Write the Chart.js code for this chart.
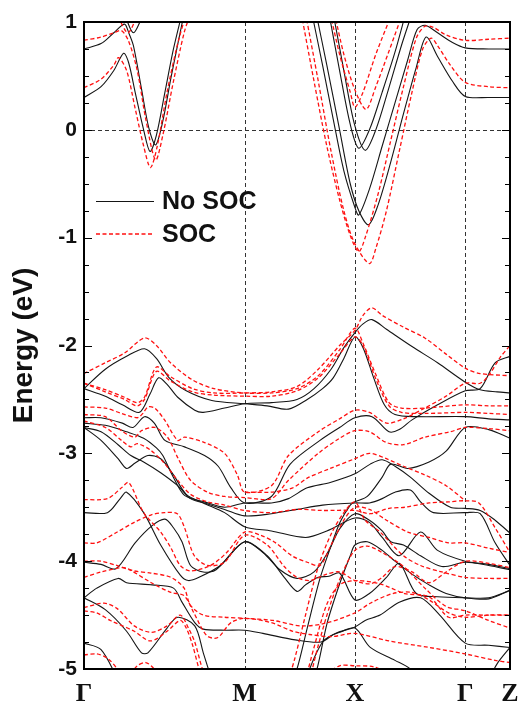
<!DOCTYPE html>
<html>
<head>
<meta charset="utf-8">
<script src="https://cdn.jsdelivr.net/npm/chart.js@4.4.1/dist/chart.umd.min.js"></script>
<style>
  html, body { margin: 0; padding: 0; background: #fff; }
  #wrap { width: 524px; height: 705px; }
</style>
</head>
<body>
<div id="wrap"><canvas id="bandChart" width="524" height="705"></canvas></div>
<script>
// k-path (normalised path length) and labels
const kTicks = [0, 37.7, 63.6, 89.5, 100];
const kLabels = ["Γ", "M", "X", "Γ", "Z"];
const energyTicks = [1, 0, -1, -2, -3, -4, -5];

// ---- No SOC bands [k, E(eV)] ----
const nc1 = [[0,0.30],[4,0.40],[7,0.55],[9.3,0.71],[10.5,0.62],[12,0.35],[14,0.0],[15.5,-0.20],[17,-0.05],[19,0.35],[21,0.75],[23,1.08]];
const nc2 = [[0,0.75],[4,0.80],[7,0.90],[9.5,0.98],[10.5,0.90],[11.6,0.78],[13.5,0.38],[15.2,0.02],[16.8,-0.14],[18.5,0.08],[20.5,0.50],[23.5,1.08]];
const nc3 = [[9.7,1.05],[11.6,0.90],[13.7,1.05]];
const nc4 = [[53.5,1.08],[56,0.60],[58.5,0.10],[61,-0.38],[63.6,-0.72],[64.5,-0.79],[67,-0.55],[70,-0.15],[73,0.25],[76,0.65],[78.2,0.93],[80.1,0.97],[83,0.90],[86.5,0.81],[89.5,0.76],[95,0.75],[100,0.75]];
const nc5 = [[54.5,1.08],[57,0.60],[60,0.0],[62.5,-0.50],[64.5,-0.75],[66.8,-0.88],[69,-0.70],[72,-0.30],[75,0.15],[78,0.58],[80.3,0.86],[83,0.68],[86.5,0.45],[89.5,0.31],[95,0.30],[100,0.30]];
const nc6 = [[57.5,1.08],[60,0.55],[62.5,0.05],[64.5,-0.17],[67,0.0],[70,0.35],[73,0.72],[75.5,1.08]];
const nc7 = [[58.5,1.08],[61,0.55],[63.5,0.05],[66,-0.19],[68.5,0.0],[71.5,0.38],[74.5,0.78],[77,1.08]];

const nv1 = [[0,-2.40],[5,-2.22],[10,-2.10],[14.2,-2.03],[17,-2.12],[20,-2.30],[24,-2.42],[30,-2.51],[37.7,-2.54],[43,-2.56],[48,-2.59],[52.4,-2.50],[56,-2.40],[58.5,-2.30],[61,-2.12],[63.6,-1.92],[65.5,-2.02],[68,-2.30],[70.5,-2.55],[73,-2.64],[78,-2.66],[89.5,-2.66],[95,-2.68],[100,-2.69]];
const nv2 = [[0,-2.40],[5,-2.47],[9,-2.55],[13,-2.62],[15.5,-2.45],[17.5,-2.30],[19.5,-2.36],[22,-2.48],[26,-2.60],[28,-2.62],[33,-2.58],[37.7,-2.54],[44,-2.53],[50,-2.50],[54,-2.40],[58,-2.22],[61,-2.02],[63.6,-1.88],[65.5,-1.80],[67.6,-1.76],[71,-1.85],[77,-2.01],[83,-2.16],[89.5,-2.34],[93,-2.41],[97,-2.43],[100,-2.44]];
const nv3 = [[0,-2.67],[4,-2.67],[9,-2.72],[11.5,-2.76],[14.2,-2.66],[16.5,-2.72],[19,-2.88],[23.6,-2.94],[28.3,-3.02],[31.5,-3.12],[34.5,-3.32],[37.7,-3.46],[44,-3.40],[48.4,-3.10],[55.4,-2.88],[60,-2.76],[63.6,-2.67],[67.6,-2.66],[71.6,-2.80],[74,-2.78],[77,-2.69],[83,-2.55],[89.5,-2.42],[93,-2.40],[96.5,-2.16],[100,-2.10]];
const nv4 = [[0,-2.76],[4,-2.88],[8,-3.05],[10,-3.14],[12,-3.09],[15,-3.02],[18,-3.05],[21,-3.20],[24,-3.38],[28,-3.46],[33,-3.55],[37.7,-3.68],[44,-3.72],[52,-3.78],[57,-3.72],[63.6,-3.60],[67,-3.64],[70,-3.78],[74,-3.95],[79,-3.73],[83,-3.90],[89.5,-4.00],[95,-4.03],[100,-4.07]];
const nv5 = [[0,-2.76],[4,-2.80],[8,-2.92],[11,-3.02],[14,-3.08],[18,-3.18],[22,-3.30],[25,-3.42],[29,-3.47],[33,-3.52],[37.7,-3.58],[44,-3.56],[50,-3.52],[56,-3.48],[63.6,-3.46],[67,-3.46],[70,-3.42],[73,-3.36],[76.6,-3.34],[79,-3.45],[82,-3.55],[89.5,-3.55],[93,-3.56],[96.5,-3.83],[100,-4.04]];
const nv6 = [[0,-2.72],[5,-2.74],[10,-2.80],[14,-2.86],[17,-2.95],[18.5,-3.02],[20.7,-3.20],[23.6,-3.39],[28.3,-3.45],[33,-3.50],[37.7,-3.46],[44,-3.46],[48,-3.42],[52.4,-3.32],[57.8,-3.27],[63.6,-3.19],[67.2,-3.10],[70,-3.06],[73,-3.12],[76.6,-3.22],[81,-3.37],[86,-3.50],[89.5,-3.51],[93,-3.53],[96.5,-3.62],[100,-3.74]];
const nv7 = [[0,-3.55],[5.5,-3.55],[8.5,-3.42],[10,-3.36],[14,-3.55],[18,-3.85],[22.6,-4.13],[24.5,-4.18],[27,-4.15],[32,-4.04],[37.7,-3.82],[42,-3.92],[46,-4.08],[50,-4.16],[54,-4.10],[57.5,-3.90],[60,-3.70],[63.6,-3.56],[67,-3.62],[70,-3.72],[72,-3.82],[75,-3.85],[79,-3.95],[84,-4.05],[89.5,-4.01],[95,-4.04],[100,-4.08]];
const nv8 = [[0,-4.01],[4,-4.03],[7.5,-4.07],[12,-3.83],[16,-3.67],[19,-3.61],[21,-3.69],[23,-3.82],[25,-4.04],[28,-4.10],[31,-4.08],[37.7,-3.82],[43,-3.95],[47,-4.15],[50,-4.28],[52,-4.22],[55,-4.15],[57.5,-4.14],[60,-4.11],[63.6,-4.36],[67,-4.30],[71,-4.15],[74,-4.02],[78,-4.30],[83,-4.33],[89.5,-4.34],[95,-4.34],[100,-4.27]];
const nv9 = [[0,-4.34],[3,-4.25],[8,-4.16],[10,-4.20],[16,-4.22],[21,-4.25],[23,-4.38],[26,-4.57],[28,-4.63],[33,-4.64],[37.7,-4.64],[42,-4.67],[49.6,-4.73],[55.6,-4.75],[59,-4.67],[63.6,-4.61],[66,-4.55],[69.5,-4.50],[74,-4.38],[79,-4.34],[83.5,-4.50],[89.5,-4.76],[95,-4.78],[100,-4.80]];
const nv10 = [[0,-4.34],[5,-4.45],[10,-4.65],[13.5,-4.85],[15,-4.85],[19.5,-4.62],[22,-4.52],[26,-4.60],[28,-4.85],[30,-5.10]];
const nv11 = [[0,-4.76],[4,-4.82],[8,-5.10]];
const nv12 = [[48.8,-5.10],[50,-5.0],[52.4,-4.62],[55.4,-4.16],[57.8,-3.88],[60.1,-3.64],[62.5,-3.48],[63.6,-3.45],[66.5,-3.40],[70,-3.22],[72,-3.10],[76,-3.14],[81,-3.08],[85,-2.98],[89.5,-2.76],[95,-2.78],[100,-2.86]];
const nv13 = [[53.5,-5.10],[54.7,-5.0],[57.1,-4.57],[60.1,-4.20],[62.5,-3.95],[63.6,-3.85],[66.5,-3.82],[70,-3.90],[73,-4.0],[77,-4.12],[81,-4.22],[85,-4.30],[89.5,-4.34],[95,-4.35],[100,-4.27]];
const nv14 = [[52,-5.10],[54,-4.90],[56,-4.75],[57.5,-4.70],[60,-4.66],[63.6,-4.62],[67.2,-4.80],[73,-4.92],[76.6,-5.0],[78,-5.10]];
const nv15 = [[95,-5.10],[97,-4.95],[100,-4.80]];

// ---- SOC bands [k, E(eV)] ----
const sc1 = [[0,0.39],[4,0.47],[7,0.60],[8.1,0.67],[10,0.55],[12,0.20],[14,-0.15],[15.6,-0.35],[17.2,-0.15],[19.5,0.35],[22,0.80],[24,1.08]];
const sc2 = [[0,0.83],[4,0.86],[7,0.90],[8.8,0.92],[10.5,0.82],[12.5,0.55],[14.5,0.10],[16.8,-0.28],[18.5,-0.05],[21,0.45],[23.5,0.90],[25,1.08]];
const sc3 = [[8,1.05],[10.3,0.90],[12.4,1.05]];
const sc4 = [[57.8,1.08],[60,0.70],[62.5,0.35],[63.6,0.21],[65.5,0.35],[68.5,0.70],[72.3,1.08]];
const sc5 = [[58.8,1.08],[61,0.70],[63.5,0.38],[66.2,0.19],[68.5,0.40],[71.5,0.72],[74.8,1.08]];
const sc6 = [[51,1.08],[54,0.45],[57,-0.15],[60,-0.65],[62.5,-0.98],[64.5,-1.13],[66,-1.0],[69,-0.60],[72,-0.10],[75,0.40],[78,0.85],[80,0.96],[82,0.95],[85,0.88],[89.5,0.83],[95,0.84],[100,0.85]];
const sc7 = [[52,1.08],[55,0.45],[58,-0.20],[61,-0.75],[63.5,-1.05],[67,-1.24],[68.5,-1.10],[71,-0.75],[74,-0.20],[77,0.35],[79.5,0.75],[81.5,0.85],[83,0.78],[86,0.60],[89.5,0.44],[95,0.40],[100,0.39]];

const sv1 = [[0,-2.26],[5,-2.16],[9.5,-2.07],[14.2,-1.93],[17,-2.0],[20.3,-2.16],[25.5,-2.32],[30.5,-2.40],[37.7,-2.44],[44,-2.44],[50,-2.40],[55,-2.28],[60,-2.04],[63.6,-1.84],[65.5,-1.98],[68.4,-2.26],[71.6,-2.53],[74.5,-2.58],[80,-2.58],[89.5,-2.55],[95,-2.56],[100,-2.56]];
const sv2 = [[0,-2.35],[5,-2.41],[9.5,-2.48],[12.5,-2.53],[14.2,-2.48],[17,-2.20],[20.3,-2.29],[25.5,-2.40],[30.5,-2.44],[37.7,-2.44],[44,-2.43],[50,-2.38],[55,-2.22],[60,-2.0],[63.6,-1.86],[65.5,-1.72],[67.6,-1.65],[70,-1.72],[75,-1.83],[80,-1.93],[85,-2.08],[89.5,-2.21],[93,-2.26],[100,-2.28]];
const sv3 = [[0,-2.35],[5,-2.43],[9.5,-2.50],[12.5,-2.56],[14.2,-2.50],[17,-2.24],[20.3,-2.33],[25.5,-2.43],[30.5,-2.46],[37.7,-2.47],[44,-2.47],[50,-2.42],[55,-2.30],[60,-2.08],[63.6,-1.92],[65.5,-2.0],[68.4,-2.30],[71.6,-2.56],[74.5,-2.62],[80,-2.63],[89.5,-2.62],[95,-2.63],[100,-2.64]];
const sv4 = [[0,-2.57],[5,-2.58],[8.8,-2.63],[12.5,-2.67],[13.8,-2.63],[15,-2.57],[16.6,-2.58],[18.9,-2.69],[22,-2.88],[23.6,-2.85],[28.3,-2.90],[33,-3.0],[36,-3.20],[37.7,-3.36],[44,-3.30],[48,-3.02],[55,-2.80],[60,-2.68],[63.6,-2.60],[67,-2.62],[71,-2.72],[75,-2.68],[80,-2.58],[85,-2.47],[89.5,-2.35],[93,-2.35],[95.3,-2.26],[97.7,-2.11],[100,-2.0]];
const sv5 = [[0,-2.64],[5,-2.66],[8.8,-2.79],[11.9,-2.85],[13.5,-2.79],[16.6,-2.76],[19.6,-2.85],[22,-3.04],[25,-3.25],[29,-3.36],[33,-3.40],[37.7,-3.41],[44,-3.42],[48,-3.25],[55,-3.0],[60,-2.86],[63.6,-2.79],[67,-2.80],[71,-2.90],[75,-2.92],[80,-2.85],[86,-2.80],[89.5,-2.76],[95,-2.77],[100,-2.79]];
const sv6 = [[0,-2.70],[5,-2.76],[8.8,-2.88],[11,-2.94],[12.5,-2.91],[15.6,-2.97],[18.6,-3.08],[22,-3.25],[25,-3.38],[29,-3.45],[33,-3.48],[37.7,-3.53],[44,-3.55],[50,-3.52],[56,-3.53],[63.6,-3.53],[67.2,-3.56],[71.6,-3.51],[75.3,-3.50],[81,-3.46],[85.6,-3.45],[89.5,-3.44],[92.7,-3.46],[96.5,-3.69],[100,-3.92]];
const sv7 = [[0,-3.43],[5.5,-3.42],[8.8,-3.32],[10.5,-3.27],[14,-3.55],[18,-3.73],[20.3,-3.87],[22.6,-4.04],[25,-4.09],[29.7,-4.04],[33.5,-3.92],[37.7,-3.73],[41.5,-3.76],[45,-3.83],[48.8,-3.95],[52.4,-4.01],[55.4,-4.04],[58,-3.85],[61,-3.62],[63.6,-3.50],[67,-3.52],[71,-3.62],[76,-3.73],[81,-3.78],[85.6,-3.83],[89.5,-3.83],[95,-3.88],[100,-3.92]];
const sv8 = [[0,-3.83],[3,-3.83],[7.8,-3.73],[11.8,-3.64],[15.8,-3.57],[18.9,-3.55],[21.9,-3.56],[23.6,-3.69],[25.9,-3.95],[29,-4.04],[33,-4.01],[37.7,-3.76],[43,-3.85],[47,-4.05],[50,-4.15],[53,-4.18],[57,-4.12],[60,-4.10],[63.6,-4.18],[67.2,-4.21],[70,-4.15],[73,-4.05],[77,-4.10],[81,-4.20],[85,-4.10],[89.5,-4.0],[95,-4.02],[100,-4.06]];
const sv9 = [[0,-4.0],[4,-4.0],[7.7,-4.04],[11.7,-4.09],[15.7,-4.11],[20.4,-4.15],[23.5,-4.25],[25,-4.41],[28,-4.50],[33,-4.52],[37.7,-4.53],[44.4,-4.55],[50.8,-4.60],[56.2,-4.58],[63.6,-4.48],[67.2,-4.39],[72.5,-4.30],[77,-4.29],[81,-4.36],[85.6,-4.48],[89.5,-4.52],[95,-4.50],[100,-4.50]];
const sv10 = [[0,-4.15],[4,-4.10],[8.8,-4.06],[10.3,-4.07],[15.8,-4.20],[20.4,-4.29],[23.5,-4.32],[25.8,-4.48],[28.8,-4.69],[31.3,-4.71],[34.5,-4.57],[37.7,-4.53],[44,-4.57],[49,-4.65],[53,-4.68],[58,-4.70],[63.6,-4.67],[71.6,-4.74],[81,-4.80],[89.5,-4.86],[96.5,-4.92],[100,-4.94]];
const sv11 = [[0,-4.43],[4.7,-4.39],[7.8,-4.44],[11.8,-4.60],[15.8,-4.66],[19.5,-4.60],[22.6,-4.50],[24.5,-4.62],[26,-4.75],[27.8,-5.0],[29,-5.10]];
const sv12 = [[0,-4.46],[3,-4.48],[6.2,-4.55],[11.8,-4.65],[15.6,-4.74],[19.5,-4.65],[22.6,-4.55],[24,-4.62],[25.5,-4.78],[27,-5.0],[28,-5.10]];
const sv13 = [[0,-4.87],[3,-4.86],[5.5,-4.90],[7.8,-5.0],[9,-5.10]];
const sv14 = [[11,-5.05],[12.5,-4.97],[14.5,-4.94],[16,-4.98],[17.5,-5.05]];
const sv15 = [[52,-5.10],[54,-4.80],[57,-4.40],[60,-4.22],[63.6,-4.18],[69.5,-4.21],[75.3,-4.30],[81,-4.33],[85.6,-4.52],[89.5,-4.50],[95,-4.50],[100,-4.50]];
const sv16 = [[48,-5.10],[49.5,-4.90],[52,-4.50],[55,-4.05],[58,-3.75],[61,-3.55],[63.6,-3.45],[66,-3.62],[69.5,-3.73],[75,-3.95],[79,-4.04],[84,-4.10],[89.5,-4.15],[95,-4.16],[100,-4.16]];
const sv17 = [[53,-5.10],[55,-4.78],[58,-4.38],[61,-4.08],[63.6,-3.90],[66.5,-3.86],[70,-3.92],[75,-4.05],[80,-4.25],[85,-4.42],[89.5,-4.46],[95,-4.55],[100,-4.62]];
const sv18 = [[57,-5.05],[60,-4.97],[63.6,-4.97],[68,-4.98],[72,-5.05]];
const sv19 = [[37.7,-3.36],[44,-3.36],[49,-3.32],[52.4,-3.23],[57.8,-3.14],[63.6,-3.05],[67,-3.0],[71,-3.05],[75,-3.12],[80,-3.20],[85,-3.30],[89.5,-3.44]];

const noSocBands = [nc1, nc2, nc3, nc4, nc5, nc6, nc7, nv1, nv2, nv3, nv4, nv5, nv6, nv7, nv8, nv9, nv10, nv11, nv12, nv13, nv14, nv15];
const socBands = [sc1, sc2, sc3, sc4, sc5, sc6, sc7, sv1, sv2, sv3, sv4, sv5, sv6, sv7, sv8, sv9, sv10, sv11, sv12, sv13, sv14, sv15, sv16, sv17, sv18, sv19];

const SANS = "'Liberation Sans', Arial, sans-serif";
const SERIF = "'Liberation Serif', 'Times New Roman', serif";

function toDataset(band, isSoc) {
  return {
    data: band.map(([k, e]) => ({ x: k, y: e })),
    borderColor: isSoc ? "#ff1010" : "#151515",
    borderWidth: isSoc ? 1.3 : 1.1,
    borderDash: isSoc ? [4, 2.5] : [],
    pointRadius: 0,
    tension: 0.3,
    fill: false,
    order: isSoc ? 1 : 2
  };
}

// dashed guides, frame, inward ticks, legend
const bandFrame = {
  id: "bandFrame",
  beforeDatasetsDraw(chart) {
    const { ctx, chartArea: a, scales: { x, y } } = chart;
    ctx.save();
    ctx.strokeStyle = "#333";
    ctx.lineWidth = 1;
    ctx.setLineDash([4, 3]);
    ctx.beginPath();
    const y0 = Math.round(y.getPixelForValue(0)) + 0.5;
    ctx.moveTo(a.left, y0);
    ctx.lineTo(a.right, y0);
    kTicks.slice(1, -1).forEach(k => {
      const px = Math.round(x.getPixelForValue(k)) + 0.5;
      ctx.moveTo(px, a.top);
      ctx.lineTo(px, a.bottom);
    });
    ctx.stroke();
    ctx.restore();
  },
  afterDatasetsDraw(chart) {
    const { ctx, chartArea: a, scales: { y } } = chart;
    ctx.save();
    ctx.strokeStyle = "#000";
    ctx.setLineDash([]);
    ctx.lineWidth = 1.2;
    ctx.beginPath();
    for (let v = -5; v <= 1.001; v += 0.25) {
      const py = Math.round(y.getPixelForValue(v)) + 0.5;
      const len = Number.isInteger(v) ? 8 : 5;
      ctx.moveTo(a.left, py); ctx.lineTo(a.left + len, py);
      ctx.moveTo(a.right, py); ctx.lineTo(a.right - len, py);
    }
    ctx.stroke();
    ctx.lineWidth = 2;
    ctx.strokeRect(a.left, a.top, a.right - a.left, a.bottom - a.top);

    // legend
    const rows = [["No SOC", false, 201.5], ["SOC", true, 234]];
    ctx.font = "bold 25px " + SANS;
    ctx.textBaseline = "middle";
    ctx.fillStyle = "#111";
    rows.forEach(([label, isSoc, ly]) => {
      ctx.beginPath();
      ctx.lineWidth = isSoc ? 1.3 : 1.1;
      ctx.strokeStyle = isSoc ? "#ff1010" : "#151515";
      ctx.setLineDash(isSoc ? [4, 2.5] : []);
      ctx.moveTo(96, ly); ctx.lineTo(154, ly);
      ctx.stroke();
      ctx.fillText(label, 162, ly + 1);
    });
    ctx.restore();
  }
};

const datasets = [
  ...noSocBands.map(b => toDataset(b, false)),
  ...socBands.map(b => toDataset(b, true))
];

new Chart(document.getElementById("bandChart"), {
  type: "line",
  data: { datasets },
  options: {
    responsive: false,
    animation: false,
    layout: { padding: { left: 0, top: 22, right: 14, bottom: 0 } },
    plugins: { legend: { display: false }, tooltip: { enabled: false } },
    scales: {
      x: {
        type: "linear",
        min: 0,
        max: 100,
        grid: { display: false, drawTicks: false },
        border: { display: false },
        afterBuildTicks: axis => { axis.ticks = kTicks.map(v => ({ value: v })); },
        afterFit: axis => {
          axis.height = 36;
          axis.paddingLeft = 0;
          axis.paddingRight = 0;
        },
        ticks: {
          autoSkip: false,
          maxRotation: 0,
          padding: 10,
          color: "#111",
          font: { family: SERIF, size: 26, weight: "bold" },
          callback: (value, index) => kLabels[index]
        }
      },
      y: {
        min: -5,
        max: 1,
        grid: { display: false, drawTicks: false },
        border: { display: false },
        afterBuildTicks: axis => { axis.ticks = energyTicks.map(v => ({ value: v })); },
        afterFit: axis => { axis.width = 84; },
        ticks: {
          padding: 7,
          color: "#111",
          font: { family: SANS, size: 21, weight: "bold" },
          callback: value => String(value)
        },
        title: {
          display: true,
          text: "Energy (eV)",
          color: "#111",
          padding: { top: 7, bottom: 0 },
          font: { family: SANS, size: 28, weight: "bold" }
        }
      }
    }
  },
  plugins: [bandFrame]
});
</script>
</body>
</html>
